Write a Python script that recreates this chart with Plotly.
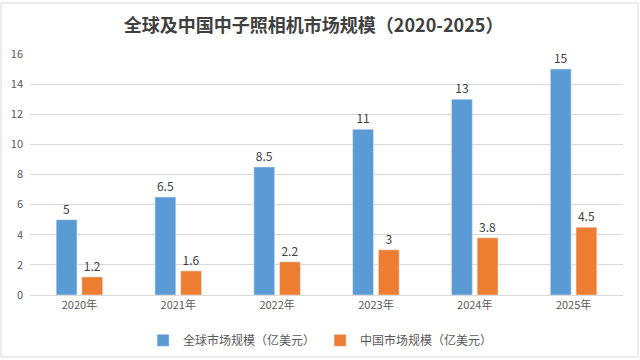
import plotly.graph_objects as go

years = ["2020年", "2021年", "2022年", "2023年", "2024年", "2025年"]
global_vals = [5, 6.5, 8.5, 11, 13, 15]
china_vals = [1.2, 1.6, 2.2, 3, 3.8, 4.5]
global_name = "全球市场规模（亿美元）"
china_name = "中国市场规模（亿美元）"
title = "全球及中国中子照相机市场规模（2020-2025）"

font = "Noto Sans CJK SC, Microsoft YaHei, sans-serif"

fig = go.Figure()
fig.add_trace(go.Bar(x=years, y=global_vals, name=global_name, marker_color="#5B9BD5",
                     text=[str(v) for v in global_vals], textposition="outside",
                     textfont=dict(size=12, color="#404040"), cliponaxis=False))
fig.add_trace(go.Bar(x=years, y=china_vals, name=china_name, marker_color="#ED7D31",
                     text=[str(v) for v in china_vals], textposition="outside",
                     textfont=dict(size=12, color="#404040"), cliponaxis=False))

fig.update_layout(
    width=640, height=360,
    margin=dict(l=30, r=17, t=54, b=65, autoexpand=False),
    paper_bgcolor="white", plot_bgcolor="white",
    font=dict(family=font, color="#595959", size=11),
    title=dict(text="<b>" + title + "</b>", x=0.49, xanchor="center", y=0.93, yanchor="middle",
               font=dict(size=18, color="#404040")),
    barmode="group", bargap=0.48, bargroupgap=0.19,
    showlegend=True,
    legend=dict(orientation="h", x=0.49, xanchor="center", y=-0.128, yanchor="top",
                font=dict(size=12, color="#595959"), itemwidth=30, traceorder="normal"),
    xaxis=dict(showline=True, linecolor="#D9D9D9", ticks="", tickfont=dict(size=11, color="#595959")),
    yaxis=dict(range=[0, 16], dtick=2, gridcolor="#D9D9D9", zeroline=False, showline=False,
               tickfont=dict(size=11, color="#595959"), ticklabelstandoff=6),
    shapes=[dict(type="rect", xref="paper", yref="paper", x0=-0.0489, x1=1.0253, y0=-0.257, y1=1.2116,
                 line=dict(color="#D9D9D9", width=1), fillcolor="rgba(0,0,0,0)", layer="below")],
)

fig.write_html("out.html", config={"displayModeBar": False},
               post_script="document.body.style.margin='0';document.body.style.overflow='hidden';")
